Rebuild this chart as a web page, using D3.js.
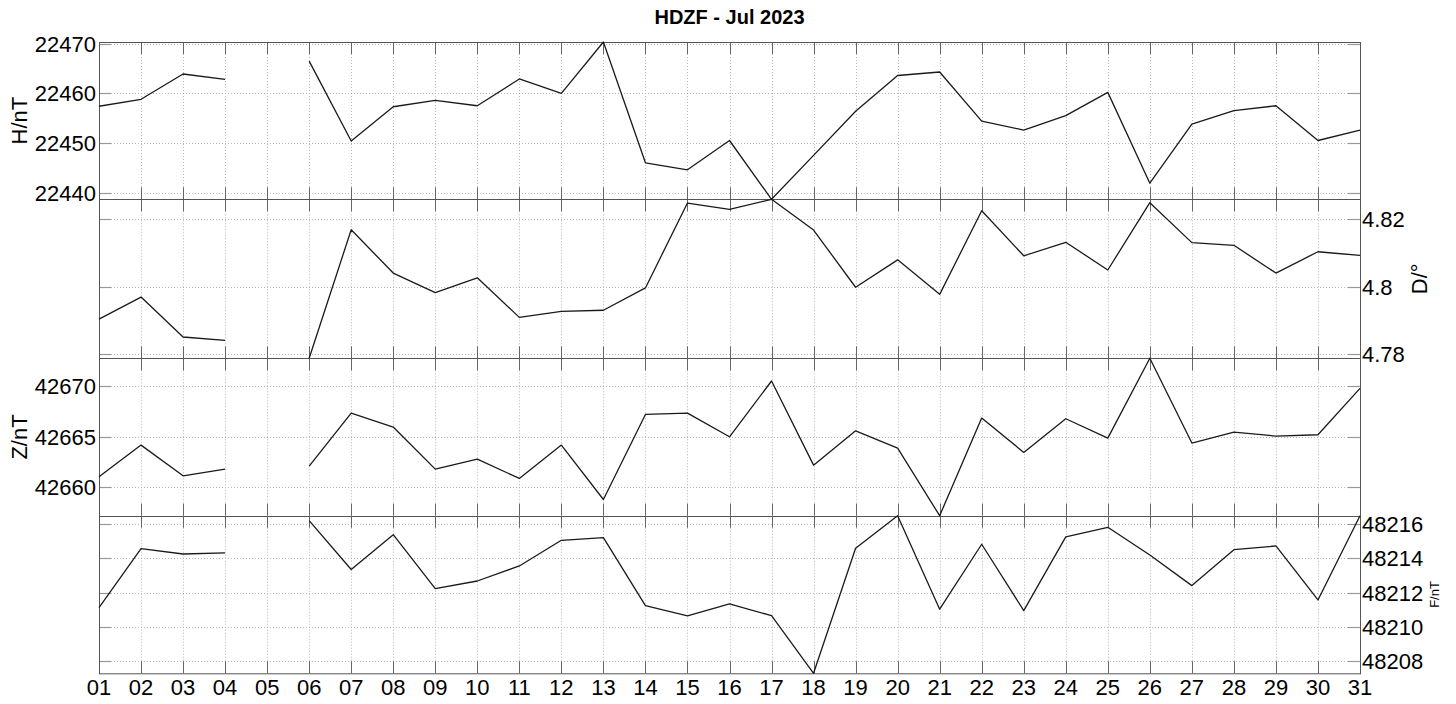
<!DOCTYPE html>
<html>
<head>
<meta charset="utf-8">
<script src="https://cdn.jsdelivr.net/npm/d3@7"></script>
<style>
  html, body { margin: 0; padding: 0; background: #fff; }
  svg { display: block; font-family: "Liberation Sans", Arial, sans-serif; }
</style>
</head>
<body>
<svg id="chart" width="1456" height="704"></svg>
<script>
// ---------------- data ----------------
const title = "HDZF - Jul 2023";
const dayLabels = ["01","02","03","04","05","06","07","08","09","10","11","12","13","14","15","16",
                   "17","18","19","20","21","22","23","24","25","26","27","28","29","30","31"];

const hValues = [22457.4, 22458.8, 22463.9, 22462.8, null, 22466.5, 22450.4, 22457.3, 22458.6, 22457.5,
                 22462.9, 22460.0, 22470.35, 22446.0, 22444.6, 22450.5, 22438.65, 22447.5, 22456.4, 22463.6,
                 22464.3, 22454.4, 22452.6, 22455.5, 22460.2, 22441.9, 22453.8, 22456.5, 22457.5, 22450.5, 22452.6];

const dValues = [4.7904, 4.7969, 4.7851, 4.7841, null, 4.7788, 4.8168, 4.8040, 4.7982, 4.8026,
                 4.7909, 4.7927, 4.7930, 4.7996, 4.8247, 4.8228, 4.8258, 4.8167, 4.7998, 4.8079,
                 4.7977, 4.8224, 4.8091, 4.8131, 4.8049, 4.8248, 4.8130, 4.8122, 4.8040, 4.8103, 4.8092];

const zValues = [42661.04, 42664.17, 42661.14, 42661.8, null, 42662.1, 42667.33, 42665.95, 42661.8, 42662.79,
                 42660.88, 42664.17, 42658.8, 42667.2, 42667.33, 42664.99, 42670.5, 42662.19, 42665.58, 42663.87,
                 42657.2, 42666.84, 42663.45, 42666.77, 42664.86, 42672.74, 42664.37, 42665.45, 42665.06, 42665.19, 42669.77];

const fValues = [48211.12, 48214.57, 48214.26, 48214.32, null, 48216.21, 48213.35, 48215.39, 48212.23, 48212.68,
                 48213.56, 48215.06, 48215.22, 48211.24, 48210.64, 48211.34, 48210.65, 48207.28, 48214.6, 48216.5,
                 48211.03, 48214.83, 48210.95, 48215.26, 48215.82, 48214.2, 48212.41, 48214.51, 48214.73, 48211.57, 48216.5];

const hTicks = [22440, 22450, 22460, 22470];
const dTicks = [4.78, 4.8, 4.82];
const zTicks = [42660, 42665, 42670];
const fTicks = [48208, 48210, 48212, 48214, 48216];

const panelLabels = ["H/nT", "D/\u00B0", "Z/nT", "F/nT"];

// ---------------- layout ----------------
const svg = d3.select("#chart");
const left = 99, right = 1360;
const bounds = [42, 199.3, 358.3, 515.7, 673.3];

const x = d3.scalePoint().domain(dayLabels).range([left, right]);

const panels = [
  { values: hValues, ticks: hTicks, label: panelLabels[0], side: "left",  fmt: d3.format("d") },
  { values: dValues, ticks: dTicks, label: panelLabels[1], side: "right", fmt: d => String(+d.toFixed(2)) },
  { values: zValues, ticks: zTicks, label: panelLabels[2], side: "left",  fmt: d3.format("d") },
  { values: fValues, ticks: fTicks, label: panelLabels[3], side: "right", fmt: d3.format("d"), small: true }
];

const gridColor = "#b8b8b8";
const frameColor = "#555";

panels.forEach((p, i) => {
  const top = bounds[i], bottom = bounds[i + 1];
  const y = d3.scaleLinear().domain(d3.extent(p.values.filter(v => v != null))).range([bottom, top]);
  const g = svg.append("g");

  // vertical dotted grid
  g.append("g").selectAll("line").data(dayLabels).join("line")
    .attr("x1", d => Math.round(x(d)) + 0.5).attr("x2", d => Math.round(x(d)) + 0.5)
    .attr("y1", top).attr("y2", bottom)
    .attr("stroke", gridColor).attr("stroke-width", 1).attr("stroke-dasharray", "1,2");

  // horizontal dotted grid
  g.append("g").selectAll("line").data(p.ticks).join("line")
    .attr("x1", left).attr("x2", right)
    .attr("y1", d => Math.round(y(d)) + 0.5).attr("y2", d => Math.round(y(d)) + 0.5)
    .attr("stroke", gridColor).attr("stroke-width", 1).attr("stroke-dasharray", "1,2");

  // x ticks (inward, top and bottom)
  g.append("g").selectAll("line.tb").data(dayLabels).join("line")
    .attr("x1", d => Math.round(x(d)) + 0.5).attr("x2", d => Math.round(x(d)) + 0.5)
    .attr("y1", bottom).attr("y2", bottom - 12)
    .attr("stroke", "#666").attr("stroke-width", 1);
  g.append("g").selectAll("line.tt").data(dayLabels).join("line")
    .attr("x1", d => Math.round(x(d)) + 0.5).attr("x2", d => Math.round(x(d)) + 0.5)
    .attr("y1", top).attr("y2", top + 12)
    .attr("stroke", "#666").attr("stroke-width", 1);

  // y ticks (inward, both sides)
  g.append("g").selectAll("line").data(p.ticks).join("line")
    .attr("x1", left).attr("x2", left + 12)
    .attr("y1", d => Math.round(y(d)) + 0.5).attr("y2", d => Math.round(y(d)) + 0.5)
    .attr("stroke", "#999").attr("stroke-width", 1.2);
  g.append("g").selectAll("line").data(p.ticks).join("line")
    .attr("x1", right - 12).attr("x2", right)
    .attr("y1", d => Math.round(y(d)) + 0.5).attr("y2", d => Math.round(y(d)) + 0.5)
    .attr("stroke", "#999").attr("stroke-width", 1.2);

  // tick labels
  g.append("g").selectAll("text").data(p.ticks).join("text")
    .attr("x", p.side === "left" ? left - 3 : right + 2)
    .attr("y", d => y(d))
    .attr("dy", "0.36em")
    .attr("text-anchor", p.side === "left" ? "end" : "start")
    .attr("font-size", 22)
    .attr("fill", "#000")
    .text(p.fmt);

  // axis label
  const cy = (top + bottom) / 2;
  let lx;
  if (p.side === "left") lx = 19;
  else lx = p.small ? 1434 : 1419;
  g.append("text")
    .attr("transform", `translate(${lx},${cy}) rotate(-90)`)
    .attr("text-anchor", "middle")
    .attr("dy", "0.36em")
    .attr("font-size", p.small ? 13 : 22)
    .attr("fill", "#000")
    .text(p.label);

  p.y = y;
});

// frame
svg.append("rect")
  .attr("x", left + 0.5).attr("y", bounds[0] + 0.5)
  .attr("width", right - left).attr("height", bounds[4] - bounds[0])
  .attr("fill", "none").attr("stroke", frameColor).attr("stroke-width", 1);
svg.append("g").selectAll("line").data(bounds.slice(1, 4)).join("line")
  .attr("x1", left).attr("x2", right)
  .attr("y1", d => Math.round(d) + 0.5).attr("y2", d => Math.round(d) + 0.5)
  .attr("stroke", frameColor).attr("stroke-width", 1);

// data lines
panels.forEach(p => {
  const line = d3.line()
    .defined(d => d != null)
    .x((d, i) => x(dayLabels[i]))
    .y(d => p.y(d));
  svg.append("path")
    .datum(p.values)
    .attr("d", line)
    .attr("fill", "none")
    .attr("stroke", "#1a1a1a")
    .attr("stroke-width", 1.3)
    .attr("stroke-linejoin", "round");
});

// x tick labels
svg.append("g").selectAll("text").data(dayLabels).join("text")
  .attr("x", d => x(d))
  .attr("y", 695)
  .attr("text-anchor", "middle")
  .attr("font-size", 22)
  .attr("fill", "#000")
  .text(d => d);

// title
svg.append("text")
  .attr("x", (left + right) / 2)
  .attr("y", 24)
  .attr("text-anchor", "middle")
  .attr("font-size", 20)
  .attr("font-weight", "bold")
  .attr("fill", "#000")
  .text(title);
</script>
</body>
</html>
